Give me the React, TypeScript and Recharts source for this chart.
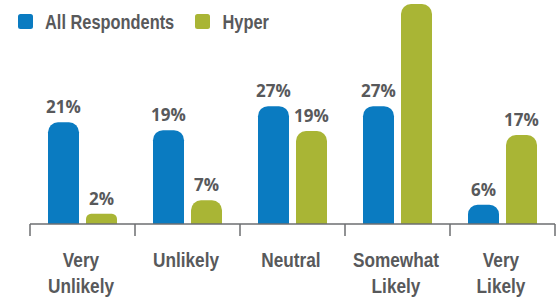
import React from 'react';
import { BarChart, Bar, XAxis, YAxis, Legend, LabelList } from 'recharts';

// Categories (two-line tick labels)
const categories = ['Very Unlikely', 'Unlikely', 'Neutral', 'Somewhat Likely', 'Very Likely'];
const categoryLines = [['Very', 'Unlikely'], ['Unlikely'], ['Neutral'], ['Somewhat', 'Likely'], ['Very', 'Likely']];

// Bar heights as drawn in the picture (percentage units)
const allRespondents = [20.8, 19.2, 24.1, 24.1, 3.95];
const hyper = [2.1, 4.85, 19.0, 45, 18.2];

// Printed labels (the tallest bar's label is off the picture in the reference)
const allLabels = ['21%', '19%', '27%', '27%', '6%'];
const hyperLabels = ['2%', '7%', '19%', '', '17%'];

const seriesNames = ['All Respondents', 'Hyper'];
const colors = ['#0A7BC1', '#A9B535'];

const data = categories.map((c, i) => ({
  name: c,
  all: allRespondents[i],
  hyper: hyper[i],
  allLabel: allLabels[i],
  hyperLabel: hyperLabels[i],
}));

const W = 556;
const H = 297;
const M = { top: 4, right: 1, left: 30, bottom: 0 };
const BAND = (W - M.left - M.right) / categories.length;
const TEXT = '#58595B';
const FONT = '"Liberation Sans", Arial, sans-serif';
const SQUEEZE = 0.82;

const NarrowText = ({ x, y, size, anchor, children }: any) => (
  <text
    transform={`translate(${x},${y}) scale(${SQUEEZE},1)`}
    textAnchor={anchor}
    fill={TEXT}
    fontFamily={FONT}
    fontWeight={700}
    fontSize={size}
  >
    {children}
  </text>
);

const Tick = (props: any) => {
  const { x, y, payload, index } = props;
  const lines = categoryLines[index] || [payload.value];
  return (
    <g>
      <line x1={x - BAND / 2} x2={x - BAND / 2} y1={y} y2={y + 12} stroke="#6d6e71" strokeWidth={1.5} />
      {index === categories.length - 1 && (
        <line x1={x + BAND / 2} x2={x + BAND / 2} y1={y} y2={y + 12} stroke="#6d6e71" strokeWidth={1.5} />
      )}
      {lines.map((l: string, i: number) => (
        <NarrowText key={i} x={x - 1.5} y={y + 43 + i * 26} size={21} anchor="middle">
          {l}
        </NarrowText>
      ))}
    </g>
  );
};

const LegendContent = () => (
  <svg width={300} height={40} style={{ display: 'block' }}>
    <rect x={18} y={14} width={15} height={15} rx={2.5} fill={colors[0]} />
    <NarrowText x={45} y={29} size={20} anchor="start">
      {seriesNames[0]}
    </NarrowText>
    <rect x={195} y={14} width={15} height={15} rx={2.5} fill={colors[1]} />
    <NarrowText x={222.5} y={29} size={20} anchor="start">
      {seriesNames[1]}
    </NarrowText>
  </svg>
);

const labelStyle = {
  fill: TEXT,
  fontFamily: '"Open Sans", "Liberation Sans", sans-serif',
  fontWeight: 700,
  fontSize: 17,
};

export default function App() {
  return (
    <div style={{ position: 'absolute', left: 0, top: 0, width: W, height: H, background: '#fff' }}>
      <BarChart width={W} height={H} data={data} margin={M} barSize={31} barGap={7}>
        <YAxis hide domain={[0, 45]} allowDataOverflow />
        <XAxis
          dataKey="name"
          height={73}
          tickSize={0}
          tickMargin={0}
          tickLine={false}
          axisLine={{ stroke: '#6d6e71', strokeWidth: 1.5 }}
          tick={<Tick />}
          interval={0}
        />
        <Legend
          layout="horizontal"
          verticalAlign="middle"
          align="center"
          wrapperStyle={{ top: 0, left: 0, width: 300, height: 40 }}
          content={<LegendContent />}
        />
        <Bar dataKey="all" name={seriesNames[0]} fill={colors[0]} radius={[10, 10, 0, 0]} isAnimationActive={false}>
          <LabelList dataKey="allLabel" position="top" offset={9} style={labelStyle} />
        </Bar>
        <Bar dataKey="hyper" name={seriesNames[1]} fill={colors[1]} radius={[10, 10, 0, 0]} isAnimationActive={false}>
          <LabelList dataKey="hyperLabel" position="top" offset={9} style={labelStyle} />
        </Bar>
      </BarChart>
    </div>
  );
}
